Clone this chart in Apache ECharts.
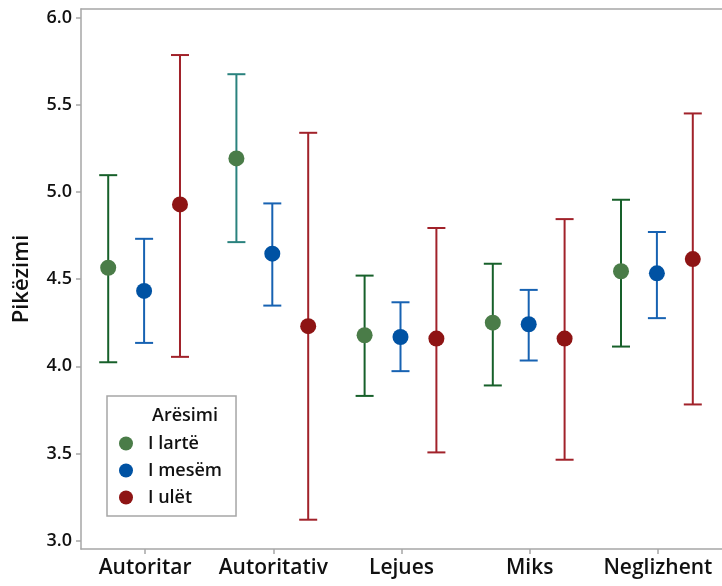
<!DOCTYPE html>
<html><head><meta charset="utf-8">
<script src="https://cdn.jsdelivr.net/npm/echarts@6/dist/echarts.min.js"></script>
<style>html,body{margin:0;padding:0;background:#fff}#c{width:722px;height:586px}</style>
</head><body><div id="c"></div>
<script>
// ---- data ----
const categories = ['Autoritar', 'Autoritativ', 'Lejues', 'Miks', 'Neglizhent'];
const seriesNames = ['I lartë', 'I mesëm', 'I ulët'];
const yTicks = [3.0, 3.5, 4.0, 4.5, 5.0, 5.5, 6.0];
// mean values
const meanHigh = [4.565, 5.192, 4.178, 4.250, 4.545];
const meanMid  = [4.432, 4.646, 4.168, 4.241, 4.533];
const meanLow  = [4.928, 4.230, 4.159, 4.159, 4.615];
// interval lower bounds
const lowerHigh = [4.023, 4.712, 3.830, 3.890, 4.113];
const lowerMid  = [4.134, 4.348, 3.972, 4.033, 4.276];
const lowerLow  = [4.054, 3.120, 3.506, 3.464, 3.781];
// interval upper bounds
const upperHigh = [5.096, 5.675, 4.520, 4.588, 4.955];
const upperMid  = [4.731, 4.934, 4.367, 4.438, 4.770];
const upperLow  = [5.785, 5.339, 4.793, 4.844, 5.450];

const markerColors = ['#4a7c48', '#0052a3', '#8e1414'];
const whiskerColors = [
  ['#17602a', '#2a827e', '#17602a', '#17602a', '#17602a'],
  ['#1762b2', '#1762b2', '#1762b2', '#1762b2', '#1762b2'],
  ['#a1222a', '#a1222a', '#a1222a', '#a1222a', '#a1222a']
];
const offsets = [-0.28, 0, 0.28];

const means = [meanHigh, meanMid, meanLow];
const lowers = [lowerHigh, lowerMid, lowerLow];
const uppers = [upperHigh, upperMid, upperLow];

function makeSeries(s) {
  const data = categories.map((c, i) => [i, lowers[s][i], uppers[s][i], means[s][i]]);
  return {
    type: 'custom',
    name: seriesNames[s],
    itemStyle: { color: markerColors[s] },
    encode: { x: 0, y: [1, 2, 3] },
    data: data,
    renderItem: function (params, api) {
      const idx = params.dataIndex;
      const band = api.size([1, 0])[0];
      const dx = offsets[s] * band - 1;
      const lo = api.coord([api.value(0), api.value(1)]);
      const hi = api.coord([api.value(0), api.value(2)]);
      const m = api.coord([api.value(0), api.value(3)]);
      const x = lo[0] + dx;
      const hw = 9;
      const st = { stroke: whiskerColors[s][idx], lineWidth: 2 };
      return {
        type: 'group',
        children: [
          { type: 'line', shape: { x1: x, y1: lo[1], x2: x, y2: hi[1] }, style: st },
          { type: 'line', shape: { x1: x - hw, y1: lo[1], x2: x + hw, y2: lo[1] }, style: st },
          { type: 'line', shape: { x1: x - hw, y1: hi[1], x2: x + hw, y2: hi[1] }, style: st },
          { type: 'circle', shape: { cx: x, cy: m[1], r: 8 }, style: { fill: markerColors[s] } }
        ]
      };
    }
  };
}

const FONT = '"Open Sans", "Noto Sans", sans-serif';
const AX = '#a6a6a6';
const chart = echarts.init(document.getElementById('c'), null, { renderer: 'canvas' });
chart.setOption({
  animation: false,
  backgroundColor: '#fff',
  grid: { left: 81, top: 9, width: 641, height: 540, show: false },
  title: {
    text: 'Arësimi', left: 147, top: 402,
    textStyle: { fontFamily: FONT, fontWeight: 600, fontSize: 18, color: '#111' }
  },
  legend: {
    orient: 'vertical', left: 107, top: 396,
    padding: [38, 14, 9, 12],
    borderColor: AX, borderWidth: 1.5, borderRadius: 0,
    icon: 'circle', itemWidth: 14, itemHeight: 14, itemGap: 8,
    data: seriesNames,
    textStyle: { fontFamily: FONT, fontWeight: 600, fontSize: 18, color: '#111', lineHeight: 19, padding: [0, 0, 0, 10] }
  },
  xAxis: [{
    type: 'category', data: categories, boundaryGap: true, position: 'bottom',
    axisLine: { show: true, lineStyle: { color: AX, width: 1.5 } },
    axisTick: { show: true, alignWithLabel: true, length: 5, lineStyle: { color: AX, width: 1.5 } },
    axisLabel: { fontFamily: FONT, fontWeight: 600, fontSize: 21, color: '#111', margin: 9, interval: 0 },
    splitLine: { show: false }
  }, {
    type: 'category', data: categories, boundaryGap: true, position: 'top',
    axisLine: { show: true, lineStyle: { color: AX, width: 1.5 } },
    axisTick: { show: false }, axisLabel: { show: false }, splitLine: { show: false }
  }],
  yAxis: {
    type: 'value', min: 2.952, max: 6.049,
    name: 'Pikëzimi', nameLocation: 'middle', nameGap: 48,
    nameTextStyle: { fontFamily: FONT, fontWeight: 600, fontSize: 22, color: '#111' },
    axisLine: { show: true, lineStyle: { color: AX, width: 1.5 } },
    axisTick: { show: true, length: 5, customValues: yTicks, lineStyle: { color: AX, width: 1.5 } },
    axisLabel: { fontFamily: FONT, fontWeight: 600, fontSize: 18, color: '#111', margin: 9, customValues: yTicks,
      formatter: v => Number(v).toFixed(1) },
    splitLine: { show: false }
  },
  series: [makeSeries(0), makeSeries(1), makeSeries(2)]
});
</script></body></html>
